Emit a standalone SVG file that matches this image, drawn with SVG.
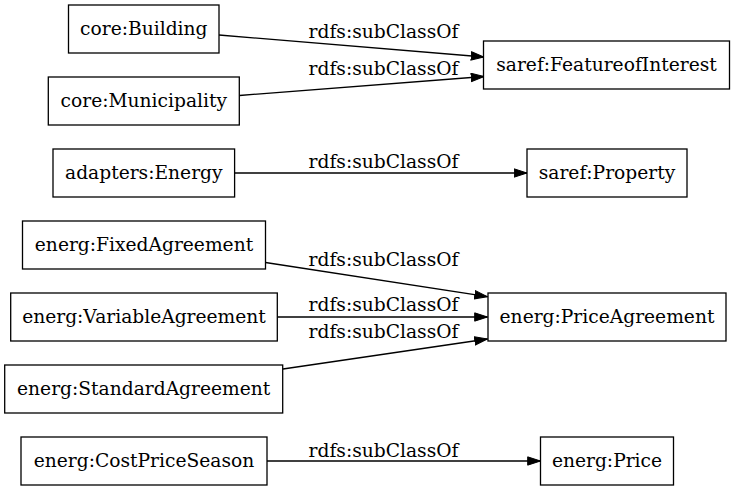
<svg xmlns="http://www.w3.org/2000/svg" width="735" height="491" viewBox="0 0 735 491">
<style>
.node rect{fill:#ffffff;stroke:#000000;stroke-width:1.3}
.node text{font-family:"DejaVu Serif","Liberation Serif",serif;font-size:18.67px;text-anchor:middle;fill:#000000}
.edges path{fill:none;stroke:#000000;stroke-width:1.3}
.edges text{font-family:"DejaVu Serif","Liberation Serif",serif;font-size:18.67px;text-anchor:middle;fill:#000000}
</style>
<defs>
<marker id="arrow" markerUnits="userSpaceOnUse" viewBox="0 0 14 10" refX="13.3" refY="4.65" markerWidth="14" markerHeight="10" orient="auto">
<path d="M0.5,0.5 L13.3,4.65 L0.5,8.8 z" fill="#000000" stroke="#000000" stroke-width="1"/>
</marker>
</defs>
<rect width="735" height="491" fill="#ffffff"/>
<g id="edges" class="edges">
<path d="M219,35 L484,57" marker-end="url(#arrow)"/>
<text x="383.5" y="37.7">rdfs:subClassOf</text>
<path d="M239.5,95.5 L484,76.5" marker-end="url(#arrow)"/>
<text x="383.5" y="75">rdfs:subClassOf</text>
<path d="M234.6,173 L527,173" marker-end="url(#arrow)"/>
<text x="383.5" y="168">rdfs:subClassOf</text>
<path d="M265.5,262.5 L487.5,296.7" marker-end="url(#arrow)"/>
<text x="383.5" y="265.7">rdfs:subClassOf</text>
<path d="M277.3,317 L487.5,317" marker-end="url(#arrow)"/>
<text x="383.5" y="310.7">rdfs:subClassOf</text>
<path d="M283,369 L487.5,339" marker-end="url(#arrow)"/>
<text x="383.5" y="337.7">rdfs:subClassOf</text>
<path d="M267,461 L540.5,461" marker-end="url(#arrow)"/>
<text x="383.5" y="456.7">rdfs:subClassOf</text>
</g>
<g id="core_Building" class="node"><rect x="68.5" y="5" width="150.5" height="48"/><text x="143.8" y="34.5">core:Building</text></g>
<g id="core_Municipality" class="node"><rect x="48.3" y="77" width="191" height="48"/><text x="143.8" y="106.5">core:Municipality</text></g>
<g id="adapters_Energy" class="node"><rect x="53" y="149" width="181.6" height="48"/><text x="143.8" y="178.5">adapters:Energy</text></g>
<g id="energ_FixedAgreement" class="node"><rect x="22.5" y="221" width="243" height="48"/><text x="144" y="250.5">energ:FixedAgreement</text></g>
<g id="energ_VariableAgreement" class="node"><rect x="10.7" y="293" width="266.6" height="48"/><text x="144" y="322.5">energ:VariableAgreement</text></g>
<g id="energ_StandardAgreement" class="node"><rect x="4.7" y="365" width="278" height="48"/><text x="143.7" y="394.5">energ:StandardAgreement</text></g>
<g id="energ_CostPriceSeason" class="node"><rect x="21" y="437" width="246" height="48"/><text x="144" y="466.5">energ:CostPriceSeason</text></g>
<g id="saref_FeatureofInterest" class="node"><rect x="483.5" y="41" width="246" height="48"/><text x="606.5" y="70.5">saref:FeatureofInterest</text></g>
<g id="saref_Property" class="node"><rect x="527" y="149" width="160" height="48"/><text x="607" y="178.5">saref:Property</text></g>
<g id="energ_PriceAgreement" class="node"><rect x="488" y="293" width="238" height="48"/><text x="607" y="322.5">energ:PriceAgreement</text></g>
<g id="energ_Price" class="node"><rect x="540.5" y="437" width="133" height="48"/><text x="607" y="466.5">energ:Price</text></g>
</svg>
